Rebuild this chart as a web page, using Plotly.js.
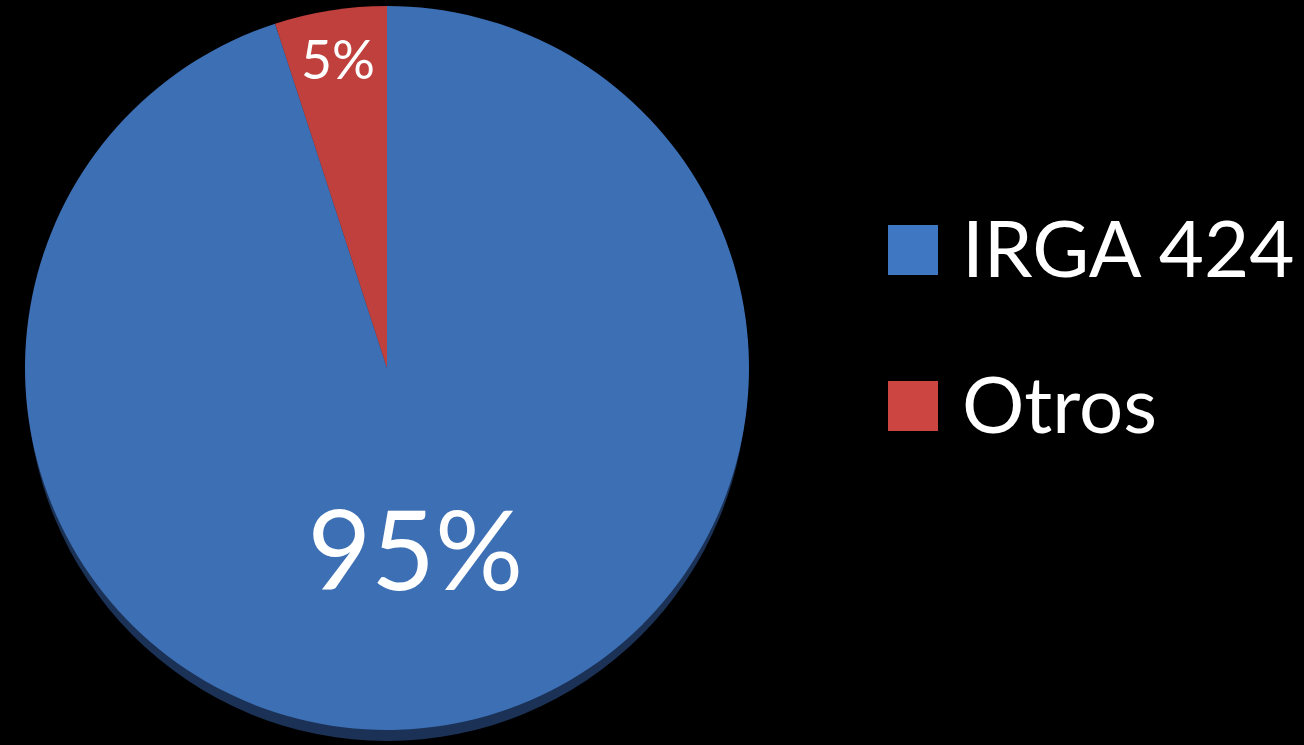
<!DOCTYPE html>
<html>
<head>
<meta charset="utf-8">
<script src="https://cdn.plot.ly/plotly-3.0.1.min.js"></script>
<style>
  html, body { margin: 0; padding: 0; background: #000; }
  #chart { width: 1304px; height: 745px; }
</style>
</head>
<body>
<div id="chart"></div>
<script>
const labels = ["IRGA 424", "Otros"];
const values = [95, 5];
const sliceColors = ["#3d6fb4", "#bf403c"];
const legendColors = ["#3f77c2", "#cd4541"];
const textLabels = ["95%", "5%"];
const textSizes = [110, 56];

const W = 1304, H = 745;
const cx = 387, cy = 368, R = 362;

const trace = {
  type: "pie",
  labels: labels,
  values: values,
  text: textLabels,
  textinfo: "text",
  texttemplate: "%{text}",
  textposition: "inside",
  insidetextorientation: "horizontal",
  insidetextfont: { family: "Lato, 'Open Sans', sans-serif", color: "#ffffff", size: textSizes },
  sort: false,
  direction: "clockwise",
  rotation: 0,
  marker: { colors: sliceColors, line: { width: 0 } },
  domain: { x: [(cx - R) / W, (cx + R) / W], y: [1 - (cy + R) / H, 1 - (cy - R) / H] },
  hoverinfo: "label+percent",
  showlegend: false
};

// 3D-like dark rim below the pie
const shapes = [{
  type: "circle", xref: "paper", yref: "paper", layer: "below",
  x0: (cx - R + 2) / W, x1: (cx + R - 2) / W,
  y0: 1 - (cy + R + 11) / H, y1: 1 - (cy - R + 11) / H,
  fillcolor: "#1b3256", line: { width: 0 }
}];
const annotations = [];
const legX = 888, legY0 = 250, legGap = 156, box = 50;
labels.forEach((lab, i) => {
  const ly = legY0 + i * legGap;
  shapes.push({
    type: "rect", xref: "paper", yref: "paper",
    x0: legX / W, x1: (legX + box) / W,
    y0: 1 - (ly + box / 2) / H, y1: 1 - (ly - box / 2) / H,
    fillcolor: legendColors[i], line: { width: 0 }
  });
  annotations.push({
    xref: "paper", yref: "paper",
    x: (legX + box + 22) / W, y: 1 - (ly - 3) / H,
    xanchor: "left", yanchor: "middle",
    text: lab, showarrow: false,
    font: { family: "Lato, 'Open Sans', sans-serif", size: 78, color: "#ffffff" }
  });
});

const layout = {
  width: W, height: H,
  paper_bgcolor: "#000000",
  plot_bgcolor: "#000000",
  margin: { l: 0, r: 0, t: 0, b: 0 },
  showlegend: false,
  shapes: shapes,
  annotations: annotations
};

Plotly.newPlot("chart", [trace], layout, { displayModeBar: false, staticPlot: true });
</script>
</body>
</html>
